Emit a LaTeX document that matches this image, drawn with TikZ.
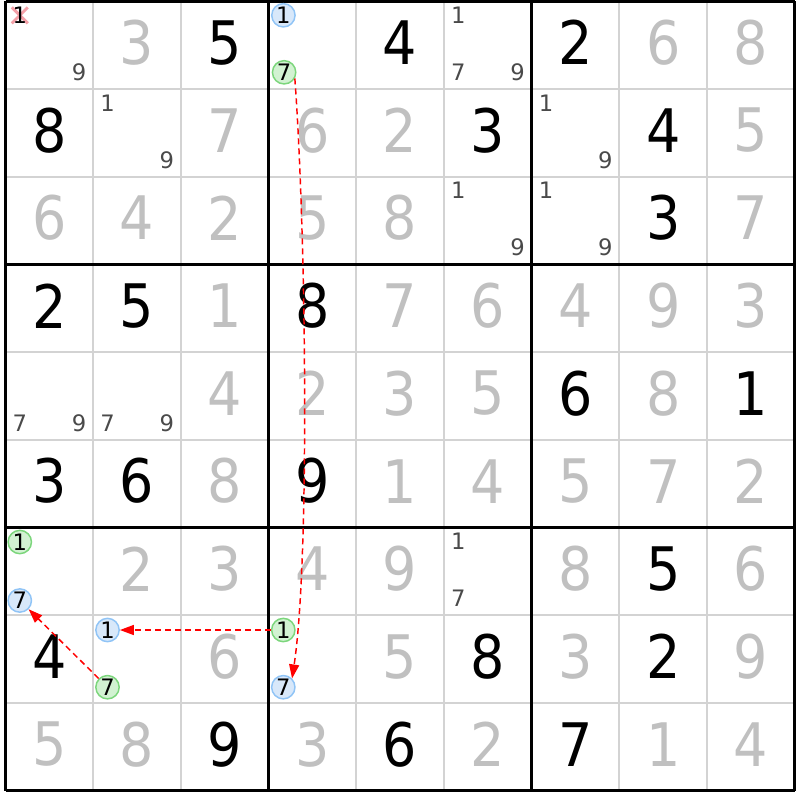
\documentclass[tikz,border=0pt]{standalone}
\usepackage{fontspec}
\newfontfamily\dfont[FakeStretch=0.9]{DejaVu Sans}
\newfontfamily\sfont{DejaVu Sans}
\usetikzlibrary{arrows.meta}
\definecolor{solvedgray}{HTML}{C0C0C0}
\definecolor{candgray}{HTML}{4A4A4A}
\definecolor{thingrid}{HTML}{D3D3D3}
\definecolor{bluefill}{HTML}{D8E8FA}
\definecolor{bluedraw}{HTML}{90C4F6}
\definecolor{greenfill}{HTML}{D2F2D2}
\definecolor{greendraw}{HTML}{7CD67C}
\definecolor{xpink}{HTML}{F4A0A8}
\newcommand\cellx[1]{5.5+87.7*(#1-1)}
\newcommand\celly[1]{1.3+87.7*(#1-1)}
\begin{document}
\begin{tikzpicture}[x=0.75pt,y=-0.75pt,
  given/.style={font=\dfont\fontsize{45}{45}\selectfont, text=black, inner sep=0pt},
  solved/.style={given, text=solvedgray},
  cand/.style={font=\sfont\fontsize{17}{17}\selectfont, text=candgray, inner sep=0pt},
  candx/.style={cand, text=black},
  ring/.style={circle, inner sep=0pt, minimum size=17.5pt, line width=1.1pt,
     font=\sfont\fontsize{17}{17}\selectfont, text=black},
  bcirc/.style={ring, draw=bluedraw, fill=bluefill},
  gcirc/.style={ring, draw=greendraw, fill=greenfill},
  thin/.style={thingrid, line width=1.5pt},
  thick/.style={black, line width=2.3pt},
  arr/.style={red, line width=1.1pt, dash pattern=on 4.5pt off 3pt,
     -{Triangle[length=10.5pt,width=7.5pt]}},
  elim/.style={xpink, line width=2.2pt}
]
\fill[white] (0,0) rectangle (800,800);
\useasboundingbox (0,0) rectangle (800,800);
% thin grid lines
\foreach \i in {1,2,4,5,7,8} {
  \draw[thin] ({5.5+87.7*\i},1.3) -- ({5.5+87.7*\i},790.6);
  \draw[thin] (5.5,{1.3+87.7*\i}) -- (794.8,{1.3+87.7*\i});
}
% thick grid lines
\foreach \i in {0,3,6,9} {
  \draw[thick] ({5.5+87.7*\i},1.3) -- ({5.5+87.7*\i},790.6);
  \draw[thick] (5.5,{1.3+87.7*\i}) -- (794.8,{1.3+87.7*\i});
}
% placed digits
\foreach \r/\c/\d/\s in {
  1/2/3/solved, 1/3/5/given, 1/5/4/given, 1/7/2/given, 1/8/6/solved, 1/9/8/solved,
  2/1/8/given, 2/3/7/solved, 2/4/6/solved, 2/5/2/solved, 2/6/3/given, 2/8/4/given, 2/9/5/solved,
  3/1/6/solved, 3/2/4/solved, 3/3/2/solved, 3/4/5/solved, 3/5/8/solved, 3/8/3/given, 3/9/7/solved,
  4/1/2/given, 4/2/5/given, 4/3/1/solved, 4/4/8/given, 4/5/7/solved, 4/6/6/solved, 4/7/4/solved, 4/8/9/solved, 4/9/3/solved,
  5/3/4/solved, 5/4/2/solved, 5/5/3/solved, 5/6/5/solved, 5/7/6/given, 5/8/8/solved, 5/9/1/given,
  6/1/3/given, 6/2/6/given, 6/3/8/solved, 6/4/9/given, 6/5/1/solved, 6/6/4/solved, 6/7/5/solved, 6/8/7/solved, 6/9/2/solved,
  7/2/2/solved, 7/3/3/solved, 7/4/4/solved, 7/5/9/solved, 7/7/8/solved, 7/8/5/given, 7/9/6/solved,
  8/1/4/given, 8/3/6/solved, 8/5/5/solved, 8/6/8/given, 8/7/3/solved, 8/8/2/given, 8/9/9/solved,
  9/1/5/solved, 9/2/8/solved, 9/3/9/given, 9/4/3/solved, 9/5/6/given, 9/6/2/solved, 9/7/7/given, 9/8/1/solved, 9/9/4/solved}
  \node[\s] (d\r\c) at ({\cellx{\c}+43.85},{\celly{\r}+43.85-2.5}) {\d};
% eliminated candidate mark
\coordinate (x11) at ({\cellx{1}+14.3},{\celly{1}+14});
\draw[elim] (x11) +(-8,-8) -- +(8,8);
\draw[elim] (x11) +(-8,8) -- +(8,-8);
\node[candx] (c111) at (x11) {1};
% candidates
\foreach \r/\c/\d in {1/1/9, 1/6/1, 1/6/7, 1/6/9, 2/2/1, 2/2/9, 2/7/1, 2/7/9,
  3/6/1, 3/6/9, 3/7/1, 3/7/9, 5/1/7, 5/1/9, 5/2/7, 5/2/9, 7/6/1, 7/6/7}
  \node[cand] (c\r\c\d) at ({\cellx{\c}+14.3+29.7*mod(\d-1,3)},{\celly{\r}+14+28.5*int((\d-1)/3)}) {\d};
% circled candidates
\node[bcirc] (b14) at ({\cellx{4}+14.8},{\celly{1}+14}) {1};
\node[gcirc] (g14) at ({\cellx{4}+15.5},{\celly{1}+71}) {7};
\node[gcirc] (g71) at ({\cellx{1}+14.3},{\celly{7}+14.5}) {1};
\node[bcirc] (b71) at ({\cellx{1}+14.3},{\celly{7}+73}) {7};
\node[bcirc] (b82) at ({\cellx{2}+14.3},{\celly{8}+14.8}) {1};
\node[gcirc] (g82) at ({\cellx{2}+14.3},{\celly{8}+72}) {7};
\node[gcirc] (g84) at ({\cellx{4}+14.7},{\celly{8}+14.8}) {1};
\node[bcirc] (b84) at ({\cellx{4}+14.7},{\celly{8}+72}) {7};
% chain arrows
\draw[arr] (g14.-30) .. controls (306,230) and (310,560) .. (b84.45);
\draw[arr] (g84) -- (b82);
\draw[arr] (g82) -- (b71);
\end{tikzpicture}
\end{document}
